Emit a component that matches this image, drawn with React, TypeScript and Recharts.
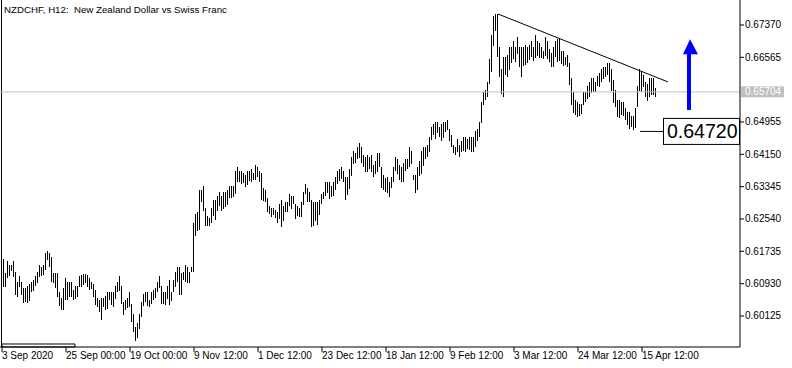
import { Bar, ComposedChart, ReferenceArea, ReferenceDot, ReferenceLine, XAxis, YAxis } from 'recharts';

// NZDCHF H12 bars (high / low per bar, oldest first)
const highs = [
  0.6154, 0.6119, 0.6149, 0.6137, 0.6137, 0.6149, 0.6122, 0.6097, 0.6110, 0.6097, 0.6082, 0.6080, 0.6087, 0.6090, 0.6095, 0.6100,
  0.6110, 0.6122, 0.6137, 0.6132, 0.6139, 0.6169, 0.6174, 0.6169, 0.6157, 0.6119, 0.6119, 0.6119, 0.6070, 0.6057, 0.6082, 0.6107,
  0.6097, 0.6095, 0.6095, 0.6077, 0.6085, 0.6085, 0.6110, 0.6114, 0.6117, 0.6117, 0.6114, 0.6107, 0.6095, 0.6090, 0.6077, 0.6057,
  0.6052, 0.6057, 0.6057, 0.6060, 0.6072, 0.6072, 0.6072, 0.6070, 0.6085, 0.6097, 0.6110, 0.6085, 0.6047, 0.6052, 0.6057, 0.6072,
  0.6040, 0.6015, 0.5983, 0.5995, 0.6015, 0.6047, 0.6065, 0.6070, 0.6070, 0.6052, 0.6070, 0.6077, 0.6082, 0.6097, 0.6112, 0.6085,
  0.6070, 0.6072, 0.6085, 0.6102, 0.6070, 0.6102, 0.6122, 0.6132, 0.6134, 0.6119, 0.6122, 0.6139, 0.6134, 0.6122, 0.6132, 0.6244,
  0.6264, 0.6269, 0.6326, 0.6326, 0.6334, 0.6281, 0.6259, 0.6256, 0.6281, 0.6301, 0.6301, 0.6309, 0.6319, 0.6309, 0.6319, 0.6319,
  0.6326, 0.6336, 0.6336, 0.6334, 0.6371, 0.6381, 0.6371, 0.6371, 0.6368, 0.6363, 0.6373, 0.6371, 0.6376, 0.6368, 0.6388, 0.6381,
  0.6371, 0.6368, 0.6329, 0.6326, 0.6306, 0.6284, 0.6281, 0.6281, 0.6276, 0.6271, 0.6289, 0.6301, 0.6284, 0.6296, 0.6296, 0.6314,
  0.6309, 0.6309, 0.6289, 0.6284, 0.6281, 0.6296, 0.6321, 0.6339, 0.6331, 0.6319, 0.6301, 0.6294, 0.6294, 0.6296, 0.6301, 0.6314,
  0.6319, 0.6344, 0.6346, 0.6344, 0.6334, 0.6344, 0.6358, 0.6371, 0.6376, 0.6381, 0.6371, 0.6358, 0.6358, 0.6376, 0.6406, 0.6421,
  0.6418, 0.6431, 0.6443, 0.6433, 0.6413, 0.6408, 0.6413, 0.6406, 0.6413, 0.6388, 0.6396, 0.6418, 0.6418, 0.6383, 0.6363, 0.6356,
  0.6358, 0.6344, 0.6358, 0.6381, 0.6406, 0.6401, 0.6388, 0.6381, 0.6393, 0.6401, 0.6401, 0.6431, 0.6421, 0.6363, 0.6363, 0.6383,
  0.6396, 0.6421, 0.6431, 0.6431, 0.6438, 0.6458, 0.6483, 0.6490, 0.6493, 0.6495, 0.6483, 0.6488, 0.6495, 0.6493, 0.6500, 0.6476,
  0.6463, 0.6438, 0.6433, 0.6451, 0.6438, 0.6446, 0.6456, 0.6458, 0.6451, 0.6458, 0.6456, 0.6458, 0.6471, 0.6476, 0.6495, 0.6545,
  0.6570, 0.6575, 0.6593, 0.6650, 0.6712, 0.6757, 0.6762, 0.6764, 0.6682, 0.6625, 0.6657, 0.6657, 0.6662, 0.6682, 0.6682, 0.6695,
  0.6680, 0.6705, 0.6682, 0.6680, 0.6680, 0.6687, 0.6682, 0.6687, 0.6695, 0.6680, 0.6712, 0.6695, 0.6692, 0.6682, 0.6670, 0.6705,
  0.6695, 0.6675, 0.6667, 0.6680, 0.6695, 0.6700, 0.6700, 0.6670, 0.6670, 0.6657, 0.6662, 0.6642, 0.6605, 0.6570, 0.6550, 0.6543,
  0.6538, 0.6538, 0.6570, 0.6570, 0.6583, 0.6595, 0.6605, 0.6605, 0.6595, 0.6608, 0.6617, 0.6625, 0.6630, 0.6632, 0.6642, 0.6642,
  0.6625, 0.6600, 0.6575, 0.6550, 0.6550, 0.6545, 0.6543, 0.6530, 0.6520, 0.6518, 0.6508, 0.6508, 0.6530, 0.6583, 0.6625, 0.6620,
  0.6612, 0.6593, 0.6588, 0.6605, 0.6605, 0.6605, 0.6580,
];

const lows = [
  0.6085, 0.6085, 0.6107, 0.6110, 0.6122, 0.6110, 0.6065, 0.6060, 0.6082, 0.6065, 0.6045, 0.6045, 0.6045, 0.6047, 0.6070, 0.6072,
  0.6085, 0.6095, 0.6107, 0.6110, 0.6114, 0.6127, 0.6152, 0.6134, 0.6095, 0.6095, 0.6082, 0.6060, 0.6035, 0.6027, 0.6027, 0.6052,
  0.6052, 0.6057, 0.6057, 0.6052, 0.6052, 0.6057, 0.6082, 0.6085, 0.6090, 0.6095, 0.6085, 0.6077, 0.6077, 0.6057, 0.6040, 0.6035,
  0.6022, 0.6002, 0.6035, 0.6025, 0.6030, 0.6052, 0.6040, 0.6032, 0.6052, 0.6072, 0.6072, 0.6040, 0.6015, 0.6027, 0.6032, 0.6035,
  0.5995, 0.5970, 0.5948, 0.5958, 0.5978, 0.6010, 0.6035, 0.6045, 0.6035, 0.6035, 0.6040, 0.6052, 0.6057, 0.6072, 0.6082, 0.6040,
  0.6040, 0.6040, 0.6052, 0.6040, 0.6047, 0.6072, 0.6085, 0.6095, 0.6065, 0.6065, 0.6102, 0.6097, 0.6095, 0.6095, 0.6119, 0.6122,
  0.6209, 0.6222, 0.6227, 0.6296, 0.6271, 0.6236, 0.6234, 0.6236, 0.6244, 0.6261, 0.6251, 0.6271, 0.6284, 0.6271, 0.6276, 0.6281,
  0.6289, 0.6306, 0.6306, 0.6306, 0.6314, 0.6344, 0.6344, 0.6339, 0.6344, 0.6334, 0.6339, 0.6346, 0.6344, 0.6351, 0.6351, 0.6356,
  0.6344, 0.6301, 0.6296, 0.6296, 0.6271, 0.6264, 0.6259, 0.6264, 0.6256, 0.6244, 0.6251, 0.6234, 0.6246, 0.6271, 0.6271, 0.6284,
  0.6276, 0.6289, 0.6251, 0.6259, 0.6259, 0.6259, 0.6289, 0.6314, 0.6296, 0.6294, 0.6234, 0.6234, 0.6246, 0.6239, 0.6264, 0.6289,
  0.6301, 0.6309, 0.6319, 0.6301, 0.6306, 0.6309, 0.6326, 0.6339, 0.6346, 0.6351, 0.6344, 0.6301, 0.6314, 0.6326, 0.6358, 0.6388,
  0.6393, 0.6401, 0.6406, 0.6393, 0.6383, 0.6371, 0.6371, 0.6376, 0.6371, 0.6358, 0.6363, 0.6371, 0.6383, 0.6331, 0.6326, 0.6321,
  0.6319, 0.6306, 0.6331, 0.6344, 0.6371, 0.6363, 0.6351, 0.6344, 0.6346, 0.6371, 0.6376, 0.6381, 0.6388, 0.6351, 0.6319, 0.6326,
  0.6358, 0.6363, 0.6383, 0.6401, 0.6408, 0.6421, 0.6451, 0.6463, 0.6451, 0.6468, 0.6458, 0.6446, 0.6456, 0.6468, 0.6476, 0.6446,
  0.6433, 0.6418, 0.6413, 0.6418, 0.6408, 0.6418, 0.6421, 0.6421, 0.6426, 0.6426, 0.6418, 0.6421, 0.6431, 0.6446, 0.6458, 0.6493,
  0.6538, 0.6550, 0.6555, 0.6588, 0.6620, 0.6682, 0.6720, 0.6657, 0.6608, 0.6563, 0.6558, 0.6612, 0.6608, 0.6625, 0.6642, 0.6650,
  0.6642, 0.6662, 0.6632, 0.6605, 0.6632, 0.6637, 0.6642, 0.6650, 0.6655, 0.6645, 0.6655, 0.6657, 0.6655, 0.6655, 0.6650, 0.6657,
  0.6650, 0.6642, 0.6632, 0.6630, 0.6655, 0.6642, 0.6645, 0.6637, 0.6632, 0.6637, 0.6632, 0.6588, 0.6538, 0.6518, 0.6513, 0.6505,
  0.6508, 0.6513, 0.6538, 0.6545, 0.6550, 0.6558, 0.6568, 0.6570, 0.6570, 0.6583, 0.6583, 0.6593, 0.6600, 0.6608, 0.6612, 0.6595,
  0.6570, 0.6543, 0.6533, 0.6508, 0.6505, 0.6513, 0.6508, 0.6500, 0.6488, 0.6476, 0.6481, 0.6472, 0.6481, 0.6530, 0.6570, 0.6568,
  0.6583, 0.6555, 0.6545, 0.6558, 0.6563, 0.6563, 0.6558,
];

const timeLabels = [
  '3 Sep 2020', '25 Sep 00:00', '19 Oct 00:00', '9 Nov 12:00', '1 Dec 12:00', '23 Dec 12:00',
  '18 Jan 12:00', '9 Feb 12:00', '3 Mar 12:00', '24 Mar 12:00', '15 Apr 12:00',
];
const timeTickBars = [0, 32, 64, 96, 128, 160, 192, 224, 256, 288, 320];

const priceTicks = [0.60125, 0.6093, 0.61735, 0.6254, 0.63345, 0.6415, 0.64955, 0.66565, 0.6737];

const lastPrice = 0.65704;
const markedLow = 0.6472;
const trendLine = [
  { x: 248, y: 0.67644 },
  { x: 333, y: 0.65951 },
];
const arrowBar = 343.5;
const arrowFrom = 0.65253;
const arrowTo = 0.67012;

const data = highs.map((h, k) => ({ bar: k + 1, range: [lows[k], h] }));

const FONT = '"Liberation Sans", Arial, sans-serif';

const Stick = (p: any) => {
  const top = Math.min(p.y, p.y + p.height);
  const h = Math.abs(p.height);
  const cx = Math.floor(p.x + p.width / 2);
  return <rect x={cx} y={Math.floor(top)} width={1} height={Math.max(1, Math.round(h))} fill="#000" />;
};

const TimeTick = ({ x, y, payload }: any) => {
  const k = timeTickBars.indexOf(payload.value);
  return (
    <text x={x} y={y + 7} fontSize={10} fontFamily={FONT} fill="#000">
      {timeLabels[k]}
    </text>
  );
};

const PriceTick = ({ x, y, payload }: any) => (
  <text x={x} y={y + 3.5} fontSize={10} fontFamily={FONT} fill="#000">
    {payload.value.toFixed(5)}
  </text>
);

const Arrow = (p: any) => {
  const { x1, y1, y2 } = p;
  const head = 15;
  return (
    <g>
      <rect x={x1 - 2} y={y2 + head - 1} width={4} height={y1 - y2 - head + 1} fill="#0000ff" />
      <polygon points={`${x1 + 1},${y2} ${x1 - 6},${y2 + head} ${x1 + 9},${y2 + head}`} fill="#0000ff" />
    </g>
  );
};

const LastPriceTag = ({ cx, cy }: any) => (
  <g>
    <rect x={cx + 1} y={cy - 5.5} width={43} height={11} fill="#c0c0c0" />
    <text x={cx + 5} y={cy + 3.5} fontSize={10} fontFamily={FONT} fill="#fff">
      {lastPrice.toFixed(5)}
    </text>
  </g>
);

const LowTag = ({ cx, cy }: any) => (
  <g>
    <rect x={cx + 0.5} y={cy - 13} width={76} height={26} fill="#fff" stroke="#000" strokeWidth={1} />
    <text x={cx + 4} y={cy + 6.5} fontSize={19.5} fontFamily={FONT} fill="#000">
      {markedLow.toFixed(5)}
    </text>
  </g>
);

export default function App() {
  return (
    <div style={{ position: 'absolute', left: 0, top: 0, width: 792, height: 368, background: '#fff' }}>
      <ComposedChart width={792} height={368} data={data} margin={{ top: 0, right: 0, bottom: 0, left: 0 }}>
        <XAxis
          dataKey="bar"
          type="number"
          domain={[-1, 369]}
          allowDataOverflow
          ticks={timeTickBars}
          interval={0}
          height={21}
          tickSize={5}
          tickMargin={0}
          axisLine={{ stroke: '#000' }}
          tickLine={{ stroke: '#000' }}
          tick={<TimeTick />}
        />
        <YAxis
          orientation="right"
          type="number"
          domain={[0.59353, 0.67992]}
          allowDataOverflow
          ticks={priceTicks}
          interval={0}
          width={52}
          tickSize={4}
          tickMargin={1}
          axisLine={{ stroke: '#000' }}
          tickLine={{ stroke: '#000' }}
          tick={<PriceTick />}
        />
        <ReferenceLine x={-0.25} stroke="#000" />
        <ReferenceLine y={lastPrice} stroke="#c0c0c0" />
        <ReferenceArea x1={0} x2={36.5} y1={0.59353} y2={0.59428} fill="#fff" stroke="#000" fillOpacity={1} />
        <Bar dataKey="range" barSize={2} shape={<Stick />} isAnimationActive={false} />
        <ReferenceLine segment={trendLine} stroke="#000" strokeWidth={1} />
        <ReferenceLine
          segment={[
            { x: 319, y: markedLow },
            { x: 330.5, y: markedLow },
          ]}
          stroke="#000"
        />
        <ReferenceDot x={330.5} y={markedLow} r={0} ifOverflow="visible" shape={<LowTag />} />
        <ReferenceLine
          segment={[
            { x: arrowBar, y: arrowFrom },
            { x: arrowBar, y: arrowTo },
          ]}
          shape={Arrow}
        />
        <ReferenceDot x={369} y={lastPrice} r={0} ifOverflow="visible" shape={<LastPriceTag />} />
      </ComposedChart>
      <div
        style={{
          position: 'absolute',
          left: 4,
          top: 3,
          fontFamily: FONT,
          fontSize: 9.7,
          lineHeight: '14px',
          color: '#000',
          whiteSpace: 'pre',
        }}
      >
        {'NZDCHF, H12:  New Zealand Dollar vs Swiss Franc'}
      </div>
    </div>
  );
}
